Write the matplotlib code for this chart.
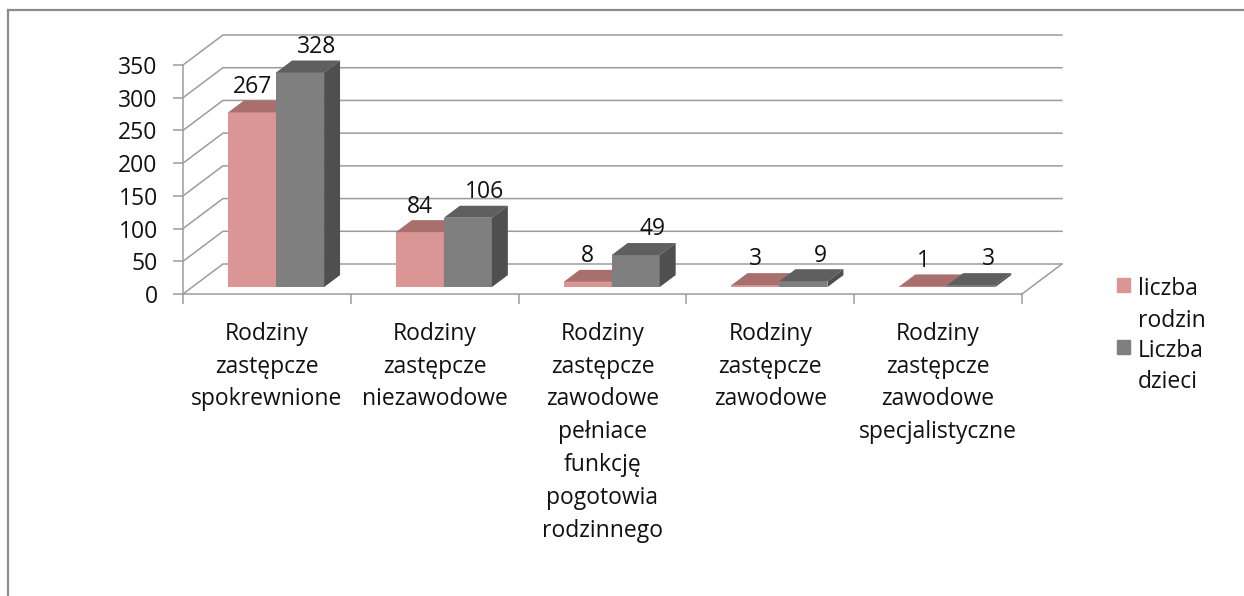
#!/usr/bin/env python3
import matplotlib
matplotlib.use('Agg')
import matplotlib.pyplot as plt
from matplotlib.patches import Polygon, Rectangle
from matplotlib.lines import Line2D

# data
categories = [
    "Rodziny\nzastępcze\nspokrewnione",
    "Rodziny\nzastępcze\nniezawodowe",
    "Rodziny\nzastępcze\nzawodowe\npełniace\nfunkcję\npogotowia\nrodzinnego",
    "Rodziny\nzastępcze\nzawodowe",
    "Rodziny\nzastępcze\nzawodowe\nspecjalistyczne",
]
liczba_rodzin = [267, 84, 8, 3, 1]
liczba_dzieci = [328, 106, 49, 9, 3]
series_names = [["liczba", "rodzin"], ["Liczba", "dzieci"]]
y_ticks = [0, 50, 100, 150, 200, 250, 300, 350]

W, H = 1244, 596
GRID = '#9c9c9c'
FONT = 16.5


def px(x, y):
    # pixel position (from top-left) -> figure fraction
    return x / W, 1 - y / H


def main():
    plt.rcParams['font.family'] = ['Open Sans', 'DejaVu Sans']
    plt.rcParams['text.color'] = '#111111'
    plt.rcParams['xtick.labelcolor'] = '#111111'
    plt.rcParams['ytick.labelcolor'] = '#111111'
    fig = plt.figure(figsize=(W / 100, H / 100), dpi=100)
    ax = fig.add_axes([183 / W, 1 - 294 / H, 839 / W, 229 / H])
    n = len(categories)
    ax.set_xlim(0, n)
    ax.set_ylim(0, 350)

    # fake 3D: depth offset of the back wall in data units
    DX, DY = 0.238, 45.85
    zb, bd = 0.23, 0.4   # bar front depth and bar depth (fraction of wall)
    w = 0.286

    # walls and gridlines
    for v in y_ticks:
        ax.add_line(Line2D([0, DX, n + DX], [v, v + DY, v + DY], color=GRID,
                           lw=1.1, zorder=1, clip_on=False))
    ax.add_line(Line2D([n, n + DX], [0, DY], color=GRID, lw=1.1, zorder=1,
                       clip_on=False))

    series = [(liczba_rodzin, '#d99694', '#a86f6d', '#b07472'),
              (liczba_dzieci, '#7f7f7f', '#5f5f5f', '#4f4f4f')]
    for k, (vals, c_front, c_top, c_side) in enumerate(series):
        xs = [i + 0.5 + zb * DX - w + k * w for i in range(n)]
        ax.bar(xs, vals, width=w, bottom=zb * DY, align='edge', color=c_front,
               zorder=2 + k, clip_on=False)
        ddx, ddy = bd * DX, bd * DY
        for x0, v in zip(xs, vals):
            top = v + zb * DY
            bot = zb * DY
            ax.add_patch(Polygon([(x0, top), (x0 + w, top), (x0 + w + ddx, top + ddy),
                                  (x0 + ddx, top + ddy)], closed=True, color=c_top,
                                 zorder=2 + k, clip_on=False, lw=0))
            ax.add_patch(Polygon([(x0 + w, bot), (x0 + w + ddx, bot + ddy),
                                  (x0 + w + ddx, top + ddy), (x0 + w, top)], closed=True,
                                 color=c_side, zorder=2 + k, clip_on=False, lw=0))
            lx = x0 + w / 2 + (0.1 if k == 1 else 0)
            ax.annotate(str(v), (lx, top + ddy), xytext=(0, 5.5), textcoords='offset points',
                        ha='center', va='baseline', fontsize=FONT, zorder=5,
                        annotation_clip=False)

    # axes, ticks
    for s in ['top', 'right']:
        ax.spines[s].set_visible(False)
    for s in ['left', 'bottom']:
        ax.spines[s].set_color(GRID)
        ax.spines[s].set_linewidth(1.1)
        ax.spines[s].set_zorder(1)
    ax.set_yticks(y_ticks)
    ax.tick_params(axis='y', length=7.2, width=1.1, color=GRID, pad=11,
                   labelsize=FONT)
    ax.set_xticks(range(n + 1))
    ax.set_xticklabels([])
    ax.set_xticks([i + 0.5 for i in range(n)], minor=True)
    ax.set_xticklabels(categories, minor=True)
    ax.tick_params(axis='x', which='major', length=7.2, width=1.1, color=GRID)
    ax.tick_params(axis='x', which='minor', length=0, pad=20, labelsize=FONT)
    for t in ax.get_xticklabels(minor=True):
        t.set_linespacing(1.49)
    ax.patch.set_visible(False)

    # legend, drawn by hand so that the marker sits by the first line
    colors = ['#d99694', '#7f7f7f']
    baselines = [[295, 327], [357, 388]]
    for name, col, bl in zip(series_names, colors, baselines):
        x, y = px(1117, bl[0] - 3)
        fig.patches.append(Rectangle((x, y), 13 / W, 14 / H, transform=fig.transFigure,
                                     color=col, figure=fig))
        for line, b in zip(name, bl):
            fig.text(*px(1138, b), line, fontsize=FONT, va='baseline', ha='left')

    # chart border (top and left edges only are visible)
    fig.add_artist(Line2D([8 / W, 1], [1 - 10 / H, 1 - 10 / H], color='#8c8c8c', lw=1.6,
                          transform=fig.transFigure))
    fig.add_artist(Line2D([8 / W, 8 / W], [0, 1 - 10 / H], color='#8c8c8c', lw=1.6,
                          transform=fig.transFigure))

    fig.savefig('out.png', dpi=100)


if __name__ == "__main__":
    main()
